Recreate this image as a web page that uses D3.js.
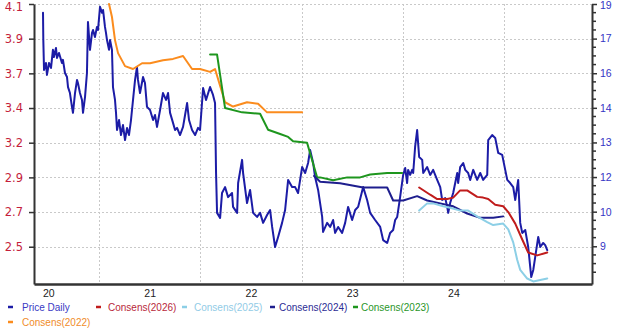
<!DOCTYPE html>
<html><head><meta charset="utf-8">
<script src="https://cdn.jsdelivr.net/npm/d3@7"></script>
<style>html,body{margin:0;padding:0;background:#fff;} svg{display:block;}</style>
</head><body>
<svg id="chart" width="620" height="329"></svg>
<script>
// ---------- DATA ----------
const yearStarts = [2021, 2022, 2023, 2024, 2025];
const yearLabelPositions = [2020.5, 2021.5, 2022.5, 2023.5, 2024.5];
const yearLabels = ["20", "21", "22", "23", "24"];
const leftTickValues = [4.19, 3.95, 3.71, 3.47, 3.23, 2.99, 2.75, 2.51];
const leftTickLabels = ["4.1", "3.9", "3.7", "3.4", "3.2", "2.9", "2.7", "2.5"];
const rightTickValues = [18.82, 17.37, 15.92, 14.47, 13.02, 11.57, 10.12, 8.67];
const rightTickLabels = ["19", "17", "16", "14", "13", "12", "10", "9"];

const priceDates = [2020.447,2020.450,2020.457,2020.476,2020.486,2020.506,2020.526,2020.545,2020.555,2020.575,2020.585,2020.605,2020.634,2020.644,2020.664,2020.684,2020.694,2020.713,2020.733,2020.743,2020.763,2020.783,2020.792,2020.812,2020.832,2020.842,2020.862,2020.881,2020.891,2020.911,2020.931,2020.941,2020.960,2020.980,2020.990,2021.010,2021.030,2021.040,2021.059,2021.069,2021.079,2021.099,2021.109,2021.128,2021.138,2021.158,2021.168,2021.178,2021.198,2021.217,2021.237,2021.257,2021.277,2021.296,2021.316,2021.336,2021.356,2021.375,2021.385,2021.405,2021.435,2021.454,2021.474,2021.504,2021.534,2021.553,2021.573,2021.603,2021.632,2021.662,2021.682,2021.702,2021.731,2021.751,2021.771,2021.800,2021.830,2021.850,2021.870,2021.889,2021.919,2021.949,2021.978,2021.998,2022.028,2022.057,2022.097,2022.126,2022.146,2022.156,2022.166,2022.196,2022.215,2022.245,2022.275,2022.314,2022.324,2022.364,2022.374,2022.413,2022.423,2022.462,2022.492,2022.522,2022.561,2022.591,2022.621,2022.660,2022.690,2022.710,2022.739,2022.769,2022.808,2022.838,2022.868,2022.907,2022.937,2022.966,2023.006,2023.036,2023.065,2023.085,2023.115,2023.134,2023.164,2023.204,2023.213,2023.253,2023.283,2023.312,2023.332,2023.362,2023.401,2023.431,2023.460,2023.500,2023.530,2023.559,2023.609,2023.648,2023.678,2023.727,2023.777,2023.806,2023.846,2023.875,2023.905,2023.925,2023.945,2023.974,2024.004,2024.024,2024.043,2024.053,2024.073,2024.093,2024.103,2024.122,2024.142,2024.162,2024.192,2024.202,2024.241,2024.271,2024.300,2024.340,2024.370,2024.389,2024.419,2024.439,2024.449,2024.468,2024.498,2024.538,2024.547,2024.567,2024.597,2024.617,2024.646,2024.666,2024.696,2024.735,2024.765,2024.794,2024.834,2024.844,2024.883,2024.913,2024.943,2024.982,2025.012,2025.032,2025.061,2025.091,2025.111,2025.140,2025.160,2025.180,2025.210,2025.239,2025.269,2025.289,2025.308,2025.338,2025.358,2025.387,2025.407,2025.427];
const priceValues = [18.45,17.31,16.06,16.35,15.85,16.35,16.14,16.90,16.60,16.98,16.56,16.77,16.35,16.48,15.93,15.76,15.34,15.09,14.51,14.26,15.09,15.64,15.51,15.09,14.80,14.26,14.93,15.93,18.07,16.90,17.61,17.73,17.44,17.86,17.73,18.70,18.45,18.57,17.86,17.61,17.31,16.90,17.31,16.90,15.34,14.80,14.26,13.54,13.96,13.33,13.75,13.12,13.63,13.33,13.96,14.80,15.64,16.18,15.64,15.09,15.76,15.51,14.51,14.38,13.96,14.17,13.67,14.38,15.09,14.80,15.09,14.26,13.84,13.54,13.63,13.33,13.67,14.17,14.67,13.96,13.54,13.33,13.63,13.54,15.30,14.80,15.34,15.01,14.67,11.74,10.07,9.86,10.90,11.15,10.73,10.90,10.32,10.07,11.32,12.29,11.74,10.48,11.03,10.07,9.90,10.07,9.65,9.98,10.19,9.48,8.64,9.06,9.65,10.19,11.45,11.15,11.15,10.90,11.99,11.74,12.16,12.70,12.16,11.57,11.03,9.90,9.27,9.65,9.48,9.77,9.23,9.48,9.23,9.65,10.32,9.77,10.19,10.32,11.15,10.61,10.07,9.77,9.48,8.93,8.81,9.23,9.35,9.77,9.90,10.73,11.66,11.95,11.32,11.87,11.66,11.87,11.74,12.83,13.54,12.41,12.29,11.74,11.99,11.66,11.87,11.45,11.15,10.61,10.69,10.32,10.07,10.48,10.90,11.74,11.32,11.99,12.16,11.87,11.74,11.45,11.87,11.45,11.74,11.45,11.66,13.12,13.33,13.21,12.58,12.50,11.87,11.45,11.32,11.15,10.61,11.45,9.65,9.23,9.35,8.64,7.38,7.68,8.22,9.06,8.64,8.81,8.72,8.51];

const cons2022Dates = [2021.099,2021.128,2021.158,2021.188,2021.257,2021.336,2021.425,2021.504,2021.632,2021.731,2021.830,2021.919,2021.998,2022.097,2022.146,2022.245,2022.324,2022.462,2022.571,2022.660,2023.006];
const cons2022Values = [4.19,4.10,3.94,3.85,3.76,3.74,3.78,3.78,3.80,3.81,3.83,3.74,3.74,3.72,3.74,3.51,3.48,3.51,3.50,3.44,3.44];
const cons2023Dates = [2022.097,2022.166,2022.245,2022.413,2022.591,2022.670,2022.789,2022.868,2022.917,2023.055,2023.154,2023.184,2023.312,2023.451,2023.579,2023.678,2023.846,2023.994];
const cons2023Values = [3.84,3.84,3.47,3.44,3.43,3.32,3.29,3.27,3.24,3.23,2.99,2.99,2.97,2.99,2.99,3.01,3.02,3.02];
const cons2024Dates = [2023.124,2023.184,2023.381,2023.609,2023.846,2023.905,2024.004,2024.142,2024.241,2024.370,2024.498,2024.636,2024.765,2024.893,2024.992];
const cons2024Values = [3.00,2.96,2.95,2.92,2.92,2.83,2.83,2.86,2.83,2.81,2.79,2.74,2.71,2.71,2.72];
const cons2025Dates = [2024.162,2024.241,2024.300,2024.399,2024.468,2024.567,2024.646,2024.735,2024.834,2024.893,2024.992,2025.042,2025.091,2025.130,2025.160,2025.229,2025.289,2025.427];
const cons2025Values = [2.76,2.81,2.81,2.79,2.78,2.76,2.76,2.72,2.68,2.66,2.67,2.63,2.54,2.42,2.35,2.29,2.27,2.29];
const cons2026Dates = [2024.162,2024.271,2024.340,2024.439,2024.498,2024.567,2024.636,2024.735,2024.794,2024.844,2024.913,2024.992,2025.042,2025.111,2025.180,2025.239,2025.328,2025.427];
const cons2026Values = [2.92,2.87,2.84,2.84,2.85,2.90,2.90,2.855,2.85,2.84,2.80,2.79,2.75,2.67,2.56,2.47,2.45,2.47];

const seriesNames = ["Price Daily", "Consens(2026)", "Consens(2025)", "Consens(2024)", "Consens(2023)", "Consens(2022)"];

// ---------- LAYOUT / STYLE ----------
const plot = {left: 34, right: 592, top: 4, bottom: 284};
const lineColors = {
  "Price Daily": "#1c1ca6", "Consens(2026)": "#c01c1c", "Consens(2025)": "#8ccfe6",
  "Consens(2024)": "#1e1e8e", "Consens(2023)": "#1e961e", "Consens(2022)": "#fb8c1e"
};
const textColors = {
  "Price Daily": "#3a3ac4", "Consens(2026)": "#b8283a", "Consens(2025)": "#92cbe6",
  "Consens(2024)": "#2c2c94", "Consens(2023)": "#2a962a", "Consens(2022)": "#f08c2a"
};
const FONT = "'Liberation Sans', Arial, sans-serif";

const svg = d3.select("#chart");
const x = d3.scaleLinear().domain([2020.358, 2025.869]).range([plot.left, plot.right]);
const yL = d3.scaleLinear().domain([2.252, 4.19]).range([plot.bottom, plot.top]);
const yR = d3.scaleLinear().domain([7.09, 18.82]).range([plot.bottom, plot.top]);

// grid
const grid = svg.append("g").attr("stroke", "#c9c9c9").attr("stroke-dasharray", "2,2").attr("stroke-width", 1);
grid.selectAll("line.h").data(leftTickValues).join("line")
  .attr("x1", plot.left).attr("x2", plot.right)
  .attr("y1", d => Math.round(yL(d)) + 0.5).attr("y2", d => Math.round(yL(d)) + 0.5);
grid.selectAll("line.v").data(yearStarts).join("line")
  .attr("y1", plot.top).attr("y2", plot.bottom)
  .attr("x1", d => Math.round(x(d)) + 0.5).attr("x2", d => Math.round(x(d)) + 0.5);

// series
const line = d3.line().curve(d3.curveLinear);
function drawSeries(dates, values, scale, name) {
  const pts = d3.zip(dates, values).map(([t, v]) => [x(t), scale(v)]);
  svg.append("path").attr("d", line(pts)).attr("fill", "none")
    .attr("stroke", lineColors[name]).attr("stroke-width", 2)
    .attr("stroke-linejoin", "round").attr("stroke-linecap", "round");
}
drawSeries(priceDates, priceValues, yR, "Price Daily");
drawSeries(cons2022Dates, cons2022Values, yL, "Consens(2022)");
drawSeries(cons2023Dates, cons2023Values, yL, "Consens(2023)");
drawSeries(cons2024Dates, cons2024Values, yL, "Consens(2024)");
drawSeries(cons2025Dates, cons2025Values, yL, "Consens(2025)");
drawSeries(cons2026Dates, cons2026Values, yL, "Consens(2026)");

// axes
const axisColor = "#333";
const gL = svg.append("g").attr("transform", `translate(${plot.left},0)`)
  .call(d3.axisLeft(yL).tickValues(leftTickValues).tickFormat((d, i) => leftTickLabels[i])
    .tickSize(5).tickSizeOuter(0).tickPadding(6));
gL.select(".domain").attr("stroke", axisColor).attr("stroke-width", 2);
gL.selectAll(".tick line").attr("stroke", axisColor).attr("stroke-width", 1.5);
gL.selectAll("text").attr("fill", "#c41e3c").style("font-family", "'DejaVu Sans', sans-serif").style("font-size", "11.5px");
gL.selectAll("text").filter((d, i) => i === 0).attr("dy", "0.72em").attr("y", -2);

const gR = svg.append("g").attr("transform", `translate(${plot.right},0)`)
  .call(d3.axisRight(yR).tickValues(rightTickValues).tickFormat((d, i) => rightTickLabels[i])
    .tickSize(5).tickSizeOuter(0).tickPadding(3));
gR.select(".domain").attr("stroke", axisColor).attr("stroke-width", 2);
gR.selectAll(".tick line").attr("stroke", axisColor).attr("stroke-width", 1.5);
gR.selectAll("text").attr("fill", "#3434c4").style("font-family", FONT).style("font-size", "10.5px");
gR.selectAll("text").filter((d, i) => i === 0).attr("dy", "0.72em").attr("y", -3);
const minorStep = (rightTickValues[0] - rightTickValues[1]) / 4;
const minor = d3.range(rightTickValues[0], yR.domain()[0], -minorStep).filter((v, i) => i % 4 !== 0);
gR.selectAll("line.minor").data(minor).join("line").attr("class", "minor")
  .attr("x1", 0).attr("x2", 4).attr("y1", d => yR(d)).attr("y2", d => yR(d))
  .attr("stroke", axisColor).attr("stroke-width", 1.5);

const gB = svg.append("g").attr("transform", `translate(0,${plot.bottom})`)
  .call(d3.axisBottom(x).tickValues(yearLabelPositions).tickFormat((d, i) => yearLabels[i])
    .tickSize(0).tickSizeOuter(0).tickPadding(6));
gB.select(".domain").attr("stroke", axisColor).attr("stroke-width", 2.5);
gB.selectAll("text").attr("fill", "#222").style("font-family", FONT).style("font-size", "10.5px");

// legend
const legendPos = [[8, 22, 0], [96, 108, 0], [182, 194, 0], [270, 279, 0], [353, 361, 0], [8, 22, 1]];
const rowY = [307, 322];
const lg = svg.append("g");
seriesNames.forEach((name, i) => {
  const [mx, tx, r] = legendPos[i];
  lg.append("line").attr("x1", mx).attr("x2", mx + 5).attr("y1", rowY[r]).attr("y2", rowY[r])
    .attr("stroke", lineColors[name]).attr("stroke-width", 2.5);
  lg.append("text").attr("x", tx).attr("y", rowY[r]).attr("dy", "0.35em")
    .attr("fill", textColors[name]).style("font-family", FONT).style("font-size", "10px").text(name);
});
</script>
</body></html>
